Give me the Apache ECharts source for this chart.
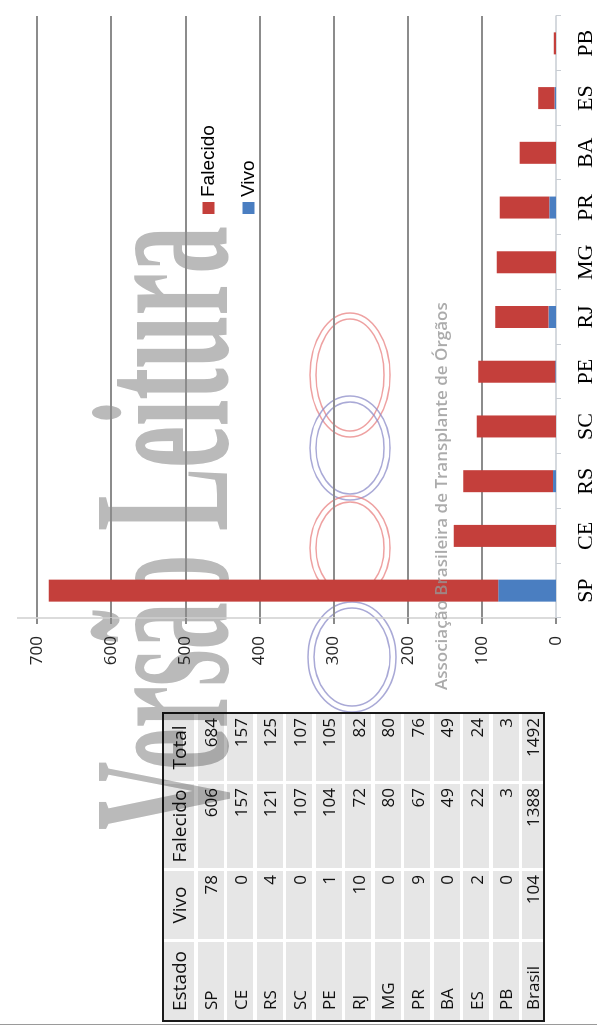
<!DOCTYPE html>
<html>
<head>
<meta charset="utf-8">
<script src="https://cdn.jsdelivr.net/npm/echarts@6/dist/echarts.min.js"></script>
<style>
  html, body { margin: 0; padding: 0; background: #fff; overflow: hidden; }
  #rot { position: absolute; left: 0; top: 0; width: 1035px; height: 597px; background: #fff;
         transform-origin: 0 0; transform: translate(0, 1035px) rotate(-90deg); }
  #chart { position: absolute; left: 0; top: 0; width: 1035px; height: 597px; }
  #tbl { position: absolute; left: 13px; top: 162px; width: 310px; height: 383px; box-sizing: border-box;
         border: 2px solid #1a1a1a; display: grid; background: #fff; mix-blend-mode: multiply;
         grid-template-columns: 78px 68px 84px 67px; column-gap: 3px; row-gap: 3.5px;
         grid-template-rows: 30px repeat(11, 26px) 21px;
         font-family: "Open Sans", sans-serif; color: #111; }
  #tbl div { background: #e6e6e6; display: flex; align-items: center; font-size: 17px; line-height: 1;
             padding: 0 4px; box-sizing: border-box; white-space: nowrap; }
  #tbl div.num { justify-content: flex-end; }
  #tbl div.st { justify-content: flex-start; padding-left: 10px; }
  #tbl div.hd { justify-content: center; font-size: 19px; padding: 0; }
  #edge { position: absolute; left: 10px; top: 0; width: 1px; height: 597px; background: #9a9a9a; }
</style>
</head>
<body>
<div id="rot">
  <div id="chart"></div>
  <div id="tbl"></div>
  <div id="edge"></div>
</div>
<script>
// ---- chart data ----
const categories = ['SP', 'CE', 'RS', 'SC', 'PE', 'RJ', 'MG', 'PR', 'BA', 'ES', 'PB'];
const vivo = [78, 0, 4, 0, 1, 10, 0, 9, 0, 2, 0];
const falecido = [606, 138, 121, 107, 104, 72, 80, 67, 49, 22, 3];
const legendNames = ['Falecido', 'Vivo'];
const valueMin = 0, valueMax = 700, valueStep = 100;

// ---- table data (as printed) ----
const tableHeader = ['Estado', 'Vivo', 'Falecido', 'Total'];
const tableEstado = ['SP', 'CE', 'RS', 'SC', 'PE', 'RJ', 'MG', 'PR', 'BA', 'ES', 'PB', 'Brasil'];
const tableVivo = [78, 0, 4, 0, 1, 10, 0, 9, 0, 2, 0, 104];
const tableFalecido = [606, 157, 121, 107, 104, 72, 80, 67, 49, 22, 3, 1388];
const tableTotal = [684, 157, 125, 107, 105, 82, 80, 76, 49, 24, 3, 1492];

// ---- watermark texts ----
const watermarkMain = 'Versão Leitura';
const watermarkOrg = 'Associação Brasileira de Transplante de Órgãos';

// build table
const tbl = document.getElementById('tbl');
function cell(txt, cls) { const d = document.createElement('div'); d.className = cls; d.textContent = txt; tbl.appendChild(d); }
tableHeader.forEach(h => cell(h, 'hd'));
tableEstado.forEach((s, i) => {
  cell(s, 'st');
  cell(String(tableVivo[i]), 'num');
  cell(String(tableFalecido[i]), 'num');
  cell(String(tableTotal[i]), 'num');
});

const chart = echarts.init(document.getElementById('chart'), null, { renderer: 'canvas' });

function ell(cx, cy, rx, ry, color) {
  return [
    { type: 'ellipse', z: -20, silent: true, shape: { cx, cy, rx, ry }, style: { fill: null, stroke: color, lineWidth: 1.5 } },
    { type: 'ellipse', z: -20, silent: true, shape: { cx, cy, rx: rx - 6, ry: ry - 6 }, style: { fill: null, stroke: color, lineWidth: 1.5 } }
  ];
}
const red = 'rgba(232,130,130,0.75)', blue = 'rgba(140,140,200,0.75)';

chart.setOption({
  animation: false,
  grid: { left: 417, right: 16, top: 37, bottom: 41, containLabel: false },
  legend: {
    data: legendNames, orient: 'vertical', left: 816, top: 194,
    itemWidth: 12, itemHeight: 12, itemGap: 21, icon: 'rect',
    textStyle: { fontFamily: 'Liberation Sans', fontSize: 19, color: '#000' }
  },
  xAxis: {
    type: 'category', data: categories,
    axisLine: { lineStyle: { color: '#C8CDD3', width: 1.5 } },
    axisTick: { show: true, length: 5, lineStyle: { color: '#C8CDD3', width: 1 } },
    axisLabel: { fontFamily: 'Liberation Serif', fontSize: 22, color: '#000', margin: 19 }
  },
  yAxis: {
    type: 'value', min: valueMin, max: valueMax, interval: valueStep,
    axisLine: { show: true, lineStyle: { color: '#CFCFCF', width: 1.5 } },
    axisTick: { show: true, length: 6, lineStyle: { color: '#8A8A8A', width: 2 } },
    splitLine: { show: true, showMinLine: false, lineStyle: { color: '#8C8C8C', width: 2 } },
    axisLabel: { fontFamily: 'Open Sans', fontSize: 17, color: '#262626', margin: 18 }
  },
  series: [
    { name: 'Vivo', type: 'bar', stack: 'total', data: vivo, barWidth: 22, itemStyle: { color: '#4A7EC1' } },
    { name: 'Falecido', type: 'bar', stack: 'total', data: falecido, barWidth: 22, itemStyle: { color: '#C43F3B' } }
  ],
  graphic: [
    {
      type: 'text', z: -30, silent: true, x: 205, y: 176, scaleX: 0.483, scaleY: 1,
      style: { text: watermarkMain, font: 'bold 196px "Liberation Serif"', fill: '#BABABA',
               textAlign: 'left', textVerticalAlign: 'middle', align: 'left', verticalAlign: 'middle' }
    },
    { type: 'line', z: 1, silent: true, shape: { x1: 417, y1: 17, x2: 417, y2: 38 },
      style: { stroke: '#CFCFCF', lineWidth: 1.5 } },
    ...ell(660, 350, 62, 40, red),
    ...ell(587, 350, 52, 40, blue),
    ...ell(487, 350, 52, 40, red),
    ...ell(378, 352, 55, 44, blue),
    {
      type: 'text', z: 100, silent: true, x: 345, y: 442,
      style: { text: watermarkOrg, font: '600 17px "Open Sans"', fill: 'rgba(150,150,150,0.8)',
               textAlign: 'left', textVerticalAlign: 'middle', align: 'left', verticalAlign: 'middle' }
    }
  ]
});
</script>
</body>
</html>
